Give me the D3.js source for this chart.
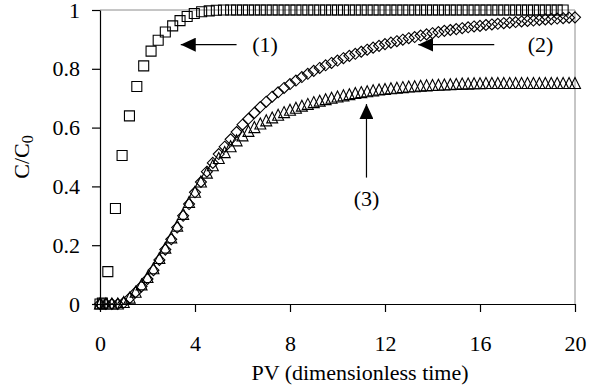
<!DOCTYPE html>
<html>
<head>
<meta charset="utf-8">
<script src="https://cdn.jsdelivr.net/npm/d3@7"></script>
<style>
  body { margin: 0; background: #fff; }
  svg text { font-family: "Liberation Serif", "Times New Roman", serif; fill: #000; }
</style>
</head>
<body>
<svg width="600" height="391"></svg>
<script>
// Curve (1): squares
const pv1 = [0, 0.1, 0.33, 0.65, 0.93, 1.24, 1.55, 1.84, 2.15, 2.45, 2.75, 3.06, 3.37, 3.67, 3.97, 4.28, 4.6, 4.9, 5.2,
  5.5, 5.75, 6, 6.25, 6.5, 6.75, 7, 7.25, 7.5, 7.75, 8, 8.25, 8.5, 8.75, 9, 9.25, 9.5, 9.75, 10, 10.25, 10.5, 10.75,
  11, 11.25, 11.5, 11.75, 12, 12.25, 12.5, 12.75, 13, 13.25, 13.5, 13.75, 14, 14.25, 14.5, 14.75, 15, 15.25, 15.5, 15.75,
  16, 16.25, 16.5, 16.75, 17, 17.25, 17.5, 17.75, 18, 18.25, 18.5, 18.75, 19, 19.25, 19.5];
const c1 = [0, 0.003, 0.11, 0.325, 0.505, 0.64, 0.74, 0.81, 0.86, 0.897, 0.925, 0.946, 0.964, 0.978, 0.988, 0.994, 0.997, 0.999, 1,
  1, 1, 1, 1, 1, 1, 1, 1, 1, 1, 1, 1, 1, 1, 1, 1, 1, 1, 1, 1, 1, 1,
  1, 1, 1, 1, 1, 1, 1, 1, 1, 1, 1, 1, 1, 1, 1, 1, 1, 1, 1, 1,
  1, 1, 1, 1, 1, 1, 1, 1, 1, 1, 1, 1, 1, 1, 1];

// Curves (2) diamonds and (3) triangles share the same PV samples
const pv23 = [0, 0.25, 0.5, 0.75, 1, 1.25, 1.5, 1.75, 2, 2.25, 2.5, 2.75, 3, 3.25, 3.5, 3.75, 4, 4.25, 4.5, 4.75,
  5, 5.25, 5.5, 5.75, 6, 6.25, 6.5, 6.75, 7, 7.25, 7.5, 7.75, 8, 8.25, 8.5, 8.75, 9, 9.25, 9.5, 9.75,
  10, 10.25, 10.5, 10.75, 11, 11.25, 11.5, 11.75, 12, 12.25, 12.5, 12.75, 13, 13.25, 13.5, 13.75, 14, 14.25, 14.5, 14.75,
  15, 15.25, 15.5, 15.75, 16, 16.25, 16.5, 16.75, 17, 17.25, 17.5, 17.75, 18, 18.25, 18.5, 18.75, 19, 19.25, 19.5, 19.75, 20];
const c2 = [0, 0, 0, 0, 0.005, 0.02, 0.04, 0.06, 0.085, 0.115, 0.15, 0.185, 0.22, 0.26, 0.3, 0.34, 0.38, 0.415, 0.45, 0.48,
  0.51, 0.535, 0.56, 0.585, 0.61, 0.63, 0.65, 0.67, 0.688, 0.705, 0.72, 0.735, 0.748, 0.76, 0.772, 0.783, 0.793, 0.803, 0.812, 0.82,
  0.828, 0.836, 0.844, 0.851, 0.858, 0.865, 0.872, 0.878, 0.884, 0.889, 0.894, 0.899, 0.904, 0.908, 0.913, 0.917, 0.921, 0.925, 0.929, 0.932,
  0.935, 0.938, 0.941, 0.944, 0.946, 0.949, 0.951, 0.953, 0.955, 0.957, 0.959, 0.961, 0.963, 0.964, 0.966, 0.968, 0.969, 0.971, 0.972, 0.974, 0.975];
const c3 = [0, 0, 0, 0, 0.005, 0.02, 0.04, 0.065, 0.09, 0.12, 0.155, 0.19, 0.225, 0.265, 0.305, 0.345, 0.38, 0.415, 0.445, 0.47,
  0.495, 0.515, 0.535, 0.555, 0.572, 0.587, 0.6, 0.612, 0.623, 0.633, 0.642, 0.651, 0.659, 0.666, 0.673, 0.679, 0.685, 0.69, 0.695, 0.7,
  0.704, 0.708, 0.712, 0.716, 0.719, 0.722, 0.725, 0.728, 0.73, 0.732, 0.734, 0.736, 0.738, 0.739, 0.741, 0.742, 0.743, 0.744, 0.745, 0.746,
  0.747, 0.748, 0.748, 0.749, 0.749, 0.75, 0.75, 0.75, 0.75, 0.75, 0.75, 0.75, 0.75, 0.75, 0.75, 0.75, 0.75, 0.75, 0.75, 0.75, 0.75];

const xTicks = [0, 4, 8, 12, 16, 20];
const yTicks = [0, 0.2, 0.4, 0.6, 0.8, 1];

// Annotations: label, arrow tail (PV, C/C0), arrow tip, text position
const notes = [
  { label: '(1)', from: [5.75, 0.882], to: [3.4, 0.882], at: [6.95, 0.882] },
  { label: '(2)', from: [16.6, 0.882], to: [13.4, 0.882], at: [18.55, 0.882] },
  { label: '(3)', from: [11.22, 0.43], to: [11.22, 0.68], at: [11.22, 0.36] }
];

const svg = d3.select('svg');
const x = d3.scaleLinear().domain([0, 20]).range([100, 575]);
const y = d3.scaleLinear().domain([0, 1]).range([304, 10]);

// plot frame (grey top / right)
svg.append('path')
  .attr('d', `M${x(0)},${y(1)}H${x(20)}V${y(0)}`)
  .attr('fill', 'none')
  .attr('stroke', '#8c8c8c')
  .attr('stroke-width', 1);

const fmt = d => d3.format('~g')(d);

const yAxis = svg.append('g')
  .attr('transform', `translate(${x(0)},0)`)
  .call(d3.axisLeft(y).tickValues(yTicks).tickSize(8).tickSizeOuter(0).tickPadding(12).tickFormat(fmt));

const xAxis = svg.append('g')
  .attr('transform', `translate(0,${y(0)})`)
  .call(d3.axisBottom(x).tickValues(xTicks).tickSize(8).tickSizeOuter(0).tickPadding(23).tickFormat(fmt));

[yAxis, xAxis].forEach(a => {
  a.selectAll('path, line').attr('stroke', '#000').attr('stroke-width', 1.2);
  a.selectAll('text').style('font-size', '22px').style('font-family', '"Liberation Serif", serif');
});

// marker shapes
const square = 'M-5,-5H5V5H-5Z';
const diamond = 'M0,-5.5L5.5,0L0,5.5L-5.5,0Z';
const triangle = 'M0,-6L5.5,5L-5.5,5Z';

function drawSeries(xs, ys, shape) {
  svg.append('g')
    .selectAll('path')
    .data(xs.map((v, i) => ({ x: v, y: ys[i] })))
    .enter()
    .append('path')
    .attr('d', shape)
    .attr('transform', d => `translate(${x(d.x)},${y(d.y)})`)
    .attr('fill', 'none')
    .attr('stroke', '#000')
    .attr('stroke-width', 1.1);
}

drawSeries(pv1, c1, square);
drawSeries(pv23, c3, triangle);
drawSeries(pv23, c2, diamond);

// arrows
svg.append('defs').append('marker')
  .attr('id', 'head')
  .attr('viewBox', '0 0 15 14')
  .attr('refX', 15).attr('refY', 7)
  .attr('markerWidth', 15).attr('markerHeight', 14)
  .attr('markerUnits', 'userSpaceOnUse')
  .attr('orient', 'auto')
  .append('path')
  .attr('d', 'M0,0L15,7L0,14Z')
  .attr('fill', '#000');

notes.forEach(n => {
  svg.append('line')
    .attr('x1', x(n.from[0])).attr('y1', y(n.from[1]))
    .attr('x2', x(n.to[0])).attr('y2', y(n.to[1]))
    .attr('stroke', '#000')
    .attr('stroke-width', 1.2)
    .attr('marker-end', 'url(#head)');
  svg.append('text')
    .attr('x', x(n.at[0])).attr('y', y(n.at[1]))
    .attr('dy', '0.35em')
    .attr('text-anchor', 'middle')
    .style('font-size', '22px')
    .text(n.label);
});

// axis titles
svg.append('text')
  .attr('x', 360).attr('y', 380)
  .attr('text-anchor', 'middle')
  .style('font-size', '22px')
  .text('PV (dimensionless time)');

const yt = svg.append('text')
  .attr('transform', 'translate(29,157) rotate(-90)')
  .attr('text-anchor', 'middle')
  .style('font-size', '22px');
yt.append('tspan').text('C/C');
yt.append('tspan').attr('dy', 4).style('font-size', '16px').text('0');
</script>
</body>
</html>
